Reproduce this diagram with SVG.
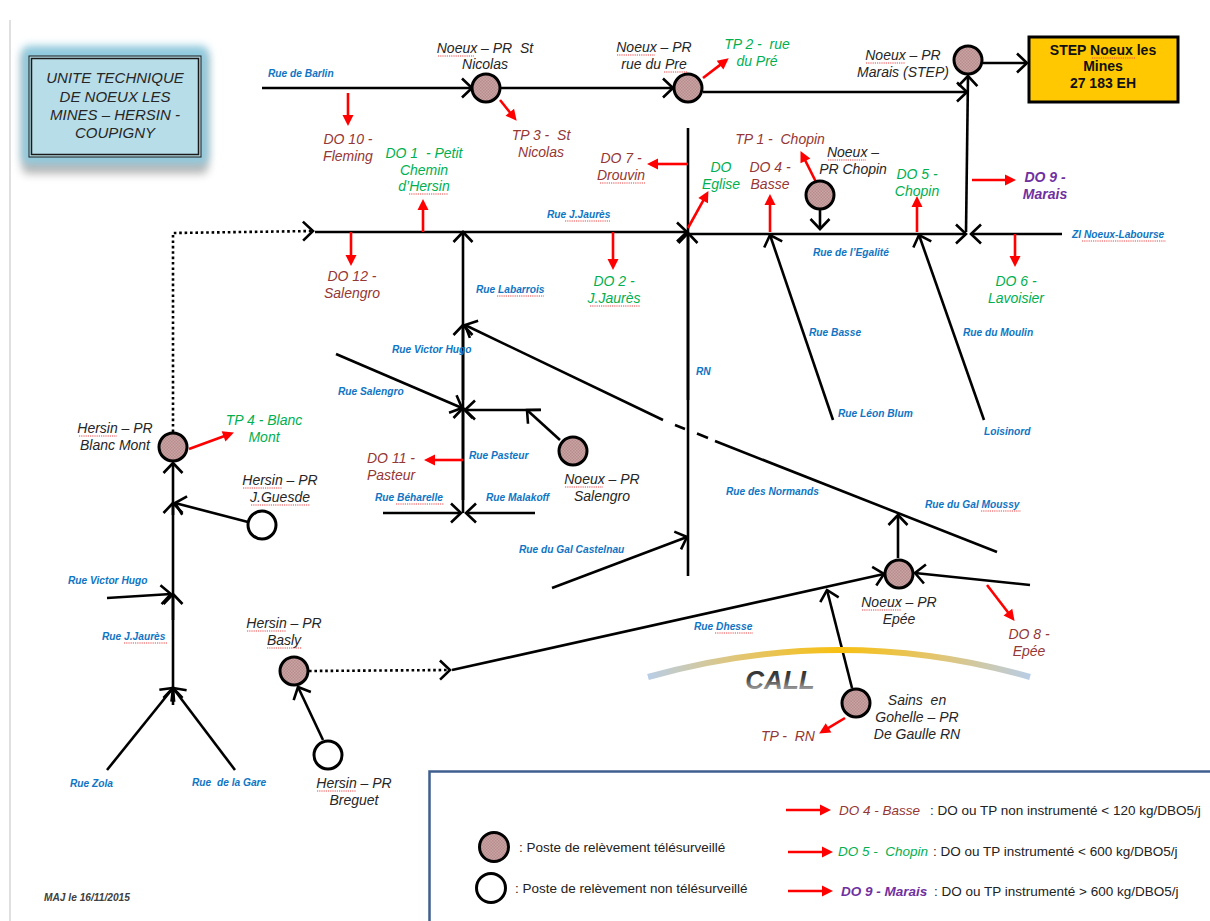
<svg xmlns="http://www.w3.org/2000/svg" width="1210" height="921" viewBox="0 0 1210 921">
<defs>
<pattern id="hatch" width="3" height="3" patternUnits="userSpaceOnUse"><rect width="3" height="3" fill="#c9a5a5"/><rect width="1.5" height="1.5" fill="#b88c8c"/><rect x="1.5" y="1.5" width="1.5" height="1.5" fill="#b88c8c"/></pattern>
<marker id="open" markerUnits="userSpaceOnUse" markerWidth="1" markerHeight="1" orient="auto" overflow="visible"><path d="M-10,-9.5 L0,0 L-10,9.5" fill="none" stroke="#000" stroke-width="2.6"/></marker>
<marker id="red" markerUnits="userSpaceOnUse" markerWidth="1" markerHeight="1" orient="auto" overflow="visible"><path d="M-1,-5.500 L10,0 L-1,5.500 Z" fill="#f00"/></marker>
<linearGradient id="arc" x1="0" x2="1" y1="0" y2="0"><stop offset="0" stop-color="#b9cde6"/><stop offset=".25" stop-color="#e3c56e"/><stop offset=".5" stop-color="#f8c010"/><stop offset=".75" stop-color="#e3c56e"/><stop offset="1" stop-color="#b9cde6"/></linearGradient>
<linearGradient id="gall" x1="0" x2="0" y1="0" y2="1"><stop offset="0" stop-color="#222"/><stop offset=".45" stop-color="#444"/><stop offset="1" stop-color="#ccc"/></linearGradient>
<filter id="glow" x="-20%" y="-20%" width="140%" height="140%"><feGaussianBlur stdDeviation="4"/></filter>
<style>
text{font-family:"Liberation Sans",Arial,sans-serif;white-space:pre;text-anchor:middle}
.l{font-size:14px;font-style:italic;fill:#262626}
.br{font-size:14px;font-style:italic;fill:#953735}
.gr{font-size:14px;font-style:italic;fill:#00b050}
.pu{font-size:14px;font-style:italic;font-weight:bold;fill:#7030a0}
.st{font-size:10.2px;font-style:italic;font-weight:bold;fill:#0f75c4;text-anchor:start}
.lg{font-size:13.5px;fill:#222;text-anchor:start}
.pr{fill:url(#hatch);stroke:#000;stroke-width:3}
.np{fill:#fff;stroke:#000;stroke-width:3}
.c{fill:none;stroke:#000;stroke-width:2.6}
.a{marker-end:url(#open)}
.d{stroke-dasharray:2.6 2.8}
.r{fill:none;stroke:#f00;stroke-width:2.6;marker-end:url(#red)}
.sq{fill:none;stroke:#e44;stroke-width:1.2;stroke-dasharray:1.2 1}
</style>
</defs>
<rect width="1210" height="921" fill="#fff"/>
<path d="M10,20V921" stroke="#ccc" stroke-width="1.2"/>

<g id="title">
<rect x="22" y="48" width="186" height="122" rx="6" fill="#7f7f7f" opacity=".55" filter="url(#glow)" transform="translate(0,4)"/>
<rect x="22" y="46" width="186" height="118" rx="6" fill="#8fcbdf" filter="url(#glow)"/>
<rect x="29" y="56" width="172" height="101" fill="#b7dde8" stroke="#1a1a1a" stroke-width="1"/>
<rect x="31.500" y="58.500" width="167" height="96" fill="none" stroke="#1a1a1a" stroke-width="1.500"/>
<text class="l" style="font-size:15px" x="115" y="83">UNITE TECHNIQUE</text>
<text class="l" style="font-size:15px" x="115" y="102">DE NOEUX LES</text>
<text class="l" style="font-size:15px" x="115" y="120">MINES – HERSIN -</text>
<text class="l" style="font-size:15px" x="115" y="138">COUPIGNY</text>
</g>

<g id="connectors">
<path class="c a" d="M262,88H472"/>
<path class="c a" d="M500,88H673"/>
<path class="c a" d="M703,92H967"/>
<path class="c a" d="M966,232L968,76"/>
<path class="c a" d="M983,63H1027"/>
<path class="c a" d="M315,232H687"/>
<path class="c d a" d="M173,432V233L313,231"/>
<path class="c a" d="M689,234H966"/>
<path class="c a" d="M1062,234H971"/>
<path class="c" d="M688,128V576"/>
<path class="c a" d="M688,400V233"/>
<path class="c a" d="M463,513V232"/>
<path class="c a" d="M463,400V325"/>
<path class="c a" d="M463,500V408"/>
<path class="c a" d="M833,420L770,235"/>
<path class="c a" d="M984,420L919,235"/>
<path class="c" d="M997,552L715,441"/>
<path class="c" d="M708,438L697,433.500M685,429L675,425"/>
<path class="c a" d="M663,420L465,325"/>
<path class="c a" d="M336,354L462,408"/>
<path class="c a" d="M541,410H465"/>
<path class="c a" d="M560,440L527,410"/>
<path class="c a" d="M383,513H461"/>
<path class="c a" d="M535,513H466"/>
<path class="c a" d="M552,588L687,537"/>
<path class="c a" d="M452,670L884,574"/>
<path class="c d a" d="M309,671L450,670"/>
<path class="c a" d="M852,688L827,590"/>
<path class="c a" d="M898,558V515"/>
<path class="c a" d="M1030,585L915,573"/>
<path class="c a" d="M173,688V463"/>
<path class="c a" d="M173,620V594"/>
<path class="c a" d="M173,515V503"/>
<path class="c a" d="M107,598L171,594"/>
<path class="c a" d="M248,522L175,503"/>
<path class="c a" d="M107,770L173,688"/>
<path class="c a" d="M235,770L173,688"/>
<path class="c a" d="M173,705V688"/>
<path class="c a" d="M323,740L298,687"/>
<path class="r" d="M348,93V116"/>
<path class="r" d="M500,100L510.400,113"/>
<path class="r" d="M703,78L720.800,64.400"/>
<path class="r" d="M423,232V209"/>
<path class="r" d="M351,232V256"/>
<path class="r" d="M613,232V260"/>
<path class="r" d="M688,164H657"/>
<path class="r" d="M688,228L703.600,199.800"/>
<path class="r" d="M770,232V204"/>
<path class="r" d="M816,182L805,160"/>
<path class="r" d="M917,232V206"/>
<path class="r" d="M972,180H1006"/>
<path class="r" d="M1015,234V257"/>
<path class="r" d="M189,449L224.500,436"/>
<path class="r" d="M463,460H434"/>
<path class="r" d="M987,585L1008.500,613"/>
<path class="r" d="M845,718L827.700,728.400"/>
</g>

<g id="call">
<path d="M648,677Q840,623 1030,677" fill="none" stroke="url(#arc)" stroke-width="6"/>
<text x="780" y="689" style="font-size:26px;font-weight:bold;font-style:italic;fill:url(#gall)">CALL</text>
</g>

<g id="pr-st-nicolas"><circle class="pr" cx="486" cy="88" r="14"/><text class="l" x="485" y="53">Noeux – PR  St</text><text class="l" x="485" y="69">Nicolas</text></g>
<g id="pr-rue-du-pre"><circle class="pr" cx="688" cy="88" r="14"/><text class="l" x="654" y="52">Noeux – PR</text><text class="l" x="654" y="69">rue du Pre</text></g>
<g id="pr-marais"><circle class="pr" cx="968" cy="60" r="14"/><text class="l" x="903" y="60">Noeux – PR</text><text class="l" x="903" y="77">Marais (STEP)</text></g>
<g id="step"><rect x="1029" y="37" width="149" height="65" fill="#ffc800" stroke="#000" stroke-width="3"/><text x="1103" y="55" style="font-size:14px;font-weight:bold;fill:#111">STEP Noeux les</text><text x="1103" y="71" style="font-size:14px;font-weight:bold;fill:#111">Mines</text><text x="1103" y="88" style="font-size:14px;font-weight:bold;fill:#111">27 183 EH</text></g>
<g id="pr-chopin"><circle class="pr" cx="820" cy="195" r="14"/><path class="c a" d="M820,209V229"/><text class="l" x="853" y="157">Noeux –</text><text class="l" x="853" y="174">PR Chopin</text></g>
<g id="pr-blanc-mont"><circle class="pr" cx="173" cy="447" r="14"/><text class="l" x="115" y="433">Hersin – PR</text><text class="l" x="115" y="450">Blanc Mont</text></g>
<g id="pr-guesde"><circle class="np" cx="262" cy="525" r="14"/><text class="l" x="280" y="485">Hersin – PR</text><text class="l" x="280" y="502">J.Guesde</text></g>
<g id="pr-salengro"><circle class="pr" cx="573" cy="451" r="14"/><text class="l" x="602" y="484">Noeux – PR</text><text class="l" x="602" y="501">Salengro</text></g>
<g id="pr-epee"><circle class="pr" cx="899" cy="574" r="14"/><text class="l" x="899" y="607">Noeux – PR</text><text class="l" x="899" y="624">Epée</text></g>
<g id="pr-basly"><circle class="pr" cx="294" cy="671" r="14"/><text class="l" x="284" y="628">Hersin – PR</text><text class="l" x="284" y="645">Basly</text></g>
<g id="pr-breguet"><circle class="np" cx="328" cy="755" r="14"/><text class="l" x="354" y="788">Hersin – PR</text><text class="l" x="354" y="805">Breguet</text></g>
<g id="pr-sains"><circle class="pr" cx="856" cy="703" r="14"/><text class="l" x="917" y="705">Sains  en</text><text class="l" x="917" y="722">Gohelle – PR</text><text class="l" x="917" y="739">De Gaulle RN</text></g>

<g id="overflow-labels">
<text class="br" x="348" y="144">DO 10 -</text><text class="br" x="348" y="161">Fleming</text>
<text class="gr" x="424" y="158">DO 1  - Petit</text><text class="gr" x="424" y="175">Chemin</text><text class="gr" x="424" y="191">d’Hersin</text>
<text class="br" x="541" y="140">TP 3 -  St</text><text class="br" x="541" y="157">Nicolas</text>
<text class="gr" x="757" y="49">TP 2 -  rue</text><text class="gr" x="757" y="66">du Pré</text>
<text class="br" x="780" y="144">TP 1 -  Chopin</text>
<text class="br" x="621" y="163">DO 7 -</text><text class="br" x="621" y="180">Drouvin</text>
<text class="gr" x="721" y="172">DO</text><text class="gr" x="721" y="189">Eglise</text>
<text class="br" x="770" y="172">DO 4 -</text><text class="br" x="770" y="189">Basse</text>
<text class="gr" x="917" y="179">DO 5 -</text><text class="gr" x="917" y="196">Chopin</text>
<text class="pu" x="1045" y="182">DO 9 -</text><text class="pu" x="1045" y="199">Marais</text>
<text class="gr" x="1016" y="286">DO 6 -</text><text class="gr" x="1016" y="303">Lavoisier</text>
<text class="gr" x="614" y="286">DO 2 -</text><text class="gr" x="614" y="303">J.Jaurès</text>
<text class="br" x="352" y="281">DO 12 -</text><text class="br" x="352" y="298">Salengro</text>
<text class="gr" x="264" y="425">TP 4 - Blanc</text><text class="gr" x="264" y="442">Mont</text>
<text class="br" x="391" y="463">DO 11 -</text><text class="br" x="391" y="480">Pasteur</text>
<text class="br" x="1029" y="639">DO 8 -</text><text class="br" x="1029" y="656">Epée</text>
<text class="br" x="788" y="741">TP -  RN</text>
</g>

<g id="street-labels">
<text class="st" x="268" y="77">Rue de Barlin</text>
<text class="st" x="547" y="218">Rue J.Jaurès</text>
<text class="st" x="813" y="256">Rue de l’Egalité</text>
<text class="st" x="1072" y="238">ZI Noeux-Labourse</text>
<text class="st" x="476" y="293">Rue Labarrois</text>
<text class="st" x="809" y="336">Rue Basse</text>
<text class="st" x="963" y="336">Rue du Moulin</text>
<text class="st" x="696" y="375">RN</text>
<text class="st" x="838" y="417">Rue Léon Blum</text>
<text class="st" x="984" y="435">Loisinord</text>
<text class="st" x="392" y="353">Rue Victor Hugo</text>
<text class="st" x="338" y="395">Rue Salengro</text>
<text class="st" x="469" y="459">Rue Pasteur</text>
<text class="st" x="375" y="501">Rue Béharelle</text>
<text class="st" x="486" y="501">Rue Malakoff</text>
<text class="st" x="519" y="553">Rue du Gal Castelnau</text>
<text class="st" x="726" y="495">Rue des Normands</text>
<text class="st" x="925" y="508">Rue du Gal Moussy</text>
<text class="st" x="694" y="630">Rue Dhesse</text>
<text class="st" x="68" y="584">Rue Victor Hugo</text>
<text class="st" x="102" y="640">Rue J.Jaurès</text>
<text class="st" x="70" y="787">Rue Zola</text>
<text class="st" x="192" y="786">Rue  de la Gare</text>
<text class="st" x="44" y="901" style="fill:#404040;font-size:10.2px">MAJ le 16/11/2015</text>
</g>

<g id="spellcheck">
<path class="sq" d="M438,56H474M617,55H655M664,72H687M866,63H905M828,160H866M600,183H645M590,306H640M565,221H610M409,194H448M497,296H544M1082,241H1166M1092,58H1135M396,504H444M565,487H603M862,610H901M715,633H753M981,511H1021M79,436H117M243,488H282M251,505H310M124,643H167M247,631H286M267,648H302M317,791H356"/>
</g>

<g id="legend">
<rect x="429.500" y="771.500" width="790" height="160" fill="#fff" stroke="#3e5f8f" stroke-width="2.500"/>
<circle class="pr" cx="494" cy="847" r="14.500"/>
<circle class="np" cx="491" cy="888" r="14.500"/>
<text class="lg" x="519" y="852">: Poste de relèvement télésurveillé</text>
<text class="lg" x="515" y="893">: Poste de relèvement non télésurveillé</text>
<path class="r" d="M786,810H821"/><path class="r" d="M788,852H823"/><path class="r" d="M788,891H823"/>
<text class="br" style="font-size:13.5px;text-anchor:start" x="839" y="815">DO 4 - Basse</text>
<text class="lg" x="930" y="815">: DO ou TP non instrumenté &lt; 120 kg/DBO5/j</text>
<text class="gr" style="font-size:13.5px;text-anchor:start" x="838" y="856">DO 5 -  Chopin</text>
<text class="lg" x="933" y="856">: DO ou TP instrumenté &lt; 600 kg/DBO5/j</text>
<text class="pu" style="font-size:13.5px;text-anchor:start" x="841" y="896">DO 9 - Marais</text>
<text class="lg" x="934" y="896">: DO ou TP instrumenté &gt; 600 kg/DBO5/j</text>
</g>
</svg>
